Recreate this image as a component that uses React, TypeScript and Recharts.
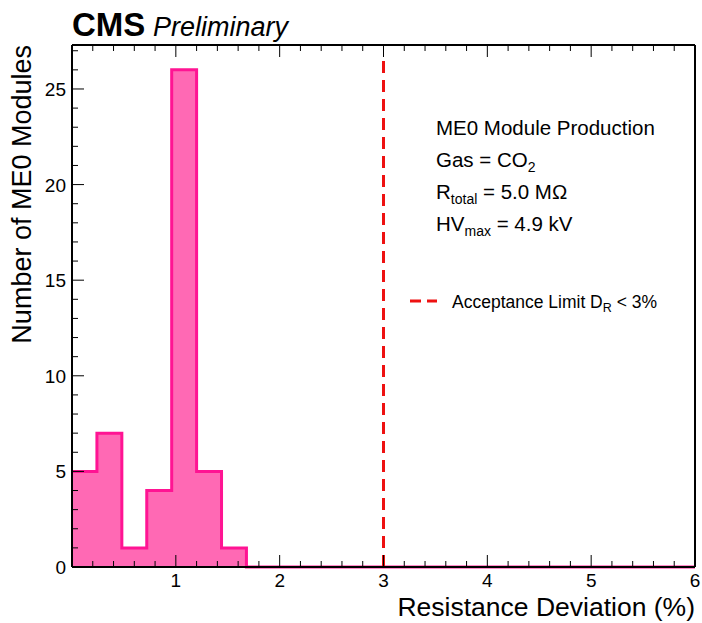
import React from 'react';
import { ComposedChart, Area, XAxis, YAxis, ReferenceLine } from 'recharts';

// histogram: 25 bins of 0.24 from 0 to 6
const binEdges = [
  0, 0.24, 0.48, 0.72, 0.96, 1.2, 1.44, 1.68, 1.92, 2.16, 2.4, 2.64, 2.88,
  3.12, 3.36, 3.6, 3.84, 4.08, 4.32, 4.56, 4.8, 5.04, 5.28, 5.52, 5.76, 6,
];
const counts = [5, 7, 1, 4, 26, 5, 1, 0, 0, 0, 0, 0, 0, 0, 0, 0, 0, 0, 0, 0, 0, 0, 0, 0, 0];

const xTicks = [
  0, 0.2, 0.4, 0.6, 0.8, 1, 1.2, 1.4, 1.6, 1.8, 2, 2.2, 2.4, 2.6, 2.8, 3, 3.2, 3.4,
  3.6, 3.8, 4, 4.2, 4.4, 4.6, 4.8, 5, 5.2, 5.4, 5.6, 5.8, 6,
];
const yTicks = [
  0, 1, 2, 3, 4, 5, 6, 7, 8, 9, 10, 11, 12, 13, 14, 15, 16, 17, 18, 19, 20, 21, 22,
  23, 24, 25, 26, 27,
];
const acceptanceLimit = 3;

// stepAfter area needs a closing point at the last edge
const data = binEdges.map((x, i) => ({ x, count: i < counts.length ? counts[i] : counts[counts.length - 1] }));

const FONT = '"Liberation Sans", Arial, Helvetica, sans-serif';
const isInt = (v: number) => Math.abs(v - Math.round(v)) < 1e-6;

const BottomTick = (props: any) => {
  const { x, y, payload } = props;
  const v = payload.value as number;
  const major = isInt(v);
  return (
    <g>
      <line x1={x} x2={x} y1={y} y2={y - (major ? 12 : 6)} stroke="#000" strokeWidth={1} />
      {major && v !== 0 && (
        <text x={x} y={y + 20} textAnchor="middle" fontSize={19} fontFamily={FONT} fill="#000">
          {Math.round(v)}
        </text>
      )}
    </g>
  );
};

const TopTick = (props: any) => {
  const { x, y, payload } = props;
  const major = isInt(payload.value);
  return <line x1={x} x2={x} y1={y} y2={y + (major ? 12 : 6)} stroke="#000" strokeWidth={1} />;
};

const LeftTick = (props: any) => {
  const { x, y, payload } = props;
  const v = payload.value as number;
  const major = v % 5 === 0;
  return (
    <g>
      <line x1={x} x2={x + (major ? 12 : 6)} y1={y} y2={y} stroke="#000" strokeWidth={1} />
      {major && (
        <text x={x - 6} y={y + 7} textAnchor="end" fontSize={19} fontFamily={FONT} fill="#000">
          {v}
        </text>
      )}
    </g>
  );
};

const RightTick = (props: any) => {
  const { x, y, payload } = props;
  const major = payload.value % 5 === 0;
  return <line x1={x} x2={x - (major ? 12 : 6)} y1={y} y2={y} stroke="#000" strokeWidth={1} />;
};

const axisLine = { stroke: '#000', strokeWidth: 2 };

export default function App() {
  return (
    <div style={{ position: 'absolute', left: 0, top: 0, width: 702, height: 623, background: '#fff' }}>
      <ComposedChart width={702} height={623} data={data} margin={{ top: 44, right: 6, bottom: 0, left: 0 }}>
        <XAxis
          xAxisId="b"
          dataKey="x"
          type="number"
          domain={[0, 6]}
          ticks={xTicks}
          interval={0}
          tickSize={0}
          tickMargin={0}
          height={56}
          tickLine={false}
          axisLine={axisLine}
          tick={<BottomTick />}
        />
        <XAxis
          xAxisId="t"
          dataKey="x"
          type="number"
          orientation="top"
          domain={[0, 6]}
          ticks={xTicks}
          interval={0}
          tickSize={0}
          tickMargin={0}
          height={1}
          tickLine={false}
          axisLine={axisLine}
          tick={<TopTick />}
        />
        <YAxis
          yAxisId="l"
          type="number"
          domain={[0, 27.3]}
          ticks={yTicks}
          interval={0}
          tickSize={0}
          tickMargin={0}
          width={72}
          tickLine={false}
          axisLine={axisLine}
          tick={<LeftTick />}
        />
        <YAxis
          yAxisId="r"
          type="number"
          orientation="right"
          domain={[0, 27.3]}
          ticks={yTicks}
          interval={0}
          tickSize={0}
          tickMargin={0}
          width={1}
          tickLine={false}
          axisLine={axisLine}
          tick={<RightTick />}
        />
        <Area
          xAxisId="b"
          yAxisId="l"
          type="stepAfter"
          dataKey="count"
          stroke="#ff1493"
          strokeWidth={3}
          fill="#ff69b4"
          fillOpacity={1}
          dot={false}
          activeDot={false}
          isAnimationActive={false}
        />
        <ReferenceLine
          xAxisId="b"
          yAxisId="l"
          segment={[{ x: acceptanceLimit, y: 0 }, { x: acceptanceLimit, y: 26.8 }]}
          stroke="#ee1111"
          strokeWidth={3}
          strokeDasharray="12 7"
        />
      </ComposedChart>

      <svg width={702} height={623} style={{ position: 'absolute', left: 0, top: 0, pointerEvents: 'none' }}>
        <g fontFamily={FONT} fill="#000">
          <text x={72} y={36} fontSize={33} fontWeight="bold">CMS</text>
          <text x={153} y={36} fontSize={27} fontStyle="italic">Preliminary</text>

          <text x={695} y={616} fontSize={26.5} textAnchor="end">Resistance Deviation (%)</text>
          <text x={0} y={0} fontSize={27} textAnchor="end" transform="translate(31,45) rotate(-90)">
            Number of ME0 Modules
          </text>

          <text x={436} y={135} fontSize={20.5}>ME0 Module Production</text>
          <text x={436} y={167} fontSize={20.5}>
            Gas = CO<tspan fontSize={14} dy={5}>2</tspan>
          </text>
          <text x={436} y={199} fontSize={20.5}>
            R<tspan fontSize={14} dy={5}>total</tspan>
            <tspan dy={-5}> = 5.0 MΩ</tspan>
          </text>
          <text x={436} y={231} fontSize={20.5}>
            HV<tspan fontSize={14} dy={5}>max</tspan>
            <tspan dy={-5}> = 4.9 kV</tspan>
          </text>

          <line x1={410} x2={437} y1={301} y2={301} stroke="#ee1111" strokeWidth={3} strokeDasharray="11 6" />
          <text x={452} y={308} fontSize={17.5}>
            Acceptance Limit D<tspan fontSize={12.5} dy={4}>R</tspan>
            <tspan dy={-4}> {'<'}  3%</tspan>
          </text>
        </g>
      </svg>
    </div>
  );
}
